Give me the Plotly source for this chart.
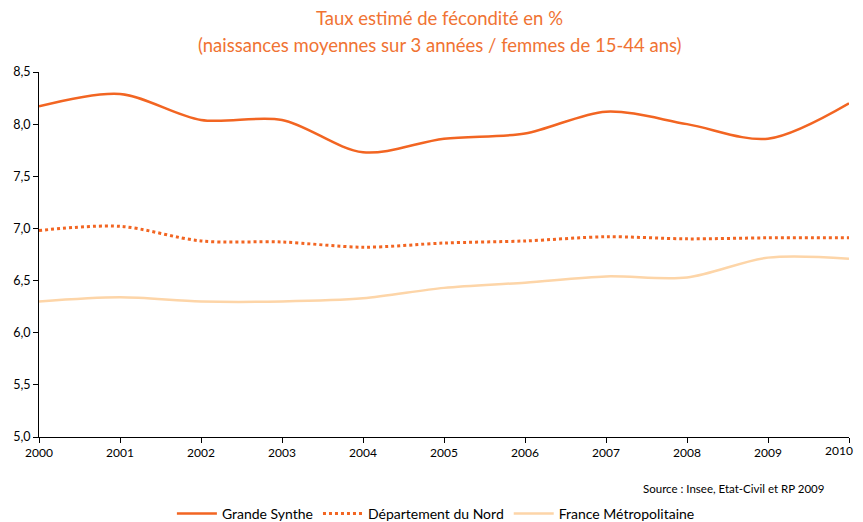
import plotly.graph_objects as go

years = [2000, 2001, 2002, 2003, 2004, 2005, 2006, 2007, 2008, 2009, 2010]
year_labels = ["2000", "2001", "2002", "2003", "2004", "2005",
               "2006", "2007", "2008", "2009", "2010"]
grande_synthe = [8.17, 8.29, 8.04, 8.04, 7.73, 7.86, 7.91, 8.12, 8.00, 7.86, 8.20]
dep_nord = [6.98, 7.02, 6.88, 6.87, 6.82, 6.86, 6.88, 6.92, 6.90, 6.91, 6.91]
france_metro = [6.30, 6.34, 6.30, 6.30, 6.33, 6.43, 6.48, 6.54, 6.53, 6.72, 6.71]

title_lines = ["Taux estimé de fécondité en %",
               "(naissances moyennes sur 3 années / femmes de 15-44 ans)"]

orange = "#F26522"
peach = "#FDD5A8"
font_family = "Lato, 'Open Sans', sans-serif"

fig = go.Figure()

fig.add_trace(go.Scatter(
    x=years, y=grande_synthe, name="Grande Synthe", mode="lines",
    line=dict(color=orange, width=2.5, shape="spline", smoothing=0.9)
))
fig.add_trace(go.Scatter(
    x=years, y=dep_nord, name="Département du Nord", mode="lines",
    line=dict(color=orange, width=3, dash="dot", shape="spline", smoothing=0.9)
))
fig.add_trace(go.Scatter(
    x=years, y=france_metro, name="France Métropolitaine", mode="lines",
    line=dict(color=peach, width=2.5, shape="spline", smoothing=0.9)
))

# title as two centred lines
for text, ypos in zip(title_lines, [1.148, 1.074]):
    fig.add_annotation(
        text=text, xref="paper", yref="paper", x=0.495, y=ypos,
        xanchor="center", yanchor="middle", showarrow=False,
        font=dict(size=18.5, color="#F07333", family=font_family)
    )

# last year label drawn separately so it is not cut at the right edge
fig.add_annotation(
    text=year_labels[-1], xref="x", yref="paper", x=years[-1], y=0,
    xanchor="right", yanchor="top", xshift=6, yshift=-4, showarrow=False,
    font=dict(size=12, color="#000000", family=font_family)
)

fig.add_annotation(
    text="Source : Insee, Etat-Civil et RP 2009",
    xref="paper", yref="paper", x=0.972, y=-0.14,
    xanchor="right", yanchor="middle", showarrow=False,
    font=dict(size=11.5, color="#000000", family=font_family)
)

# page body adds an 8px offset, so the figure is a bit smaller
fig.update_layout(
    width=855, height=514,
    margin=dict(l=31, r=14, t=64, b=85),
    paper_bgcolor="white", plot_bgcolor="white",
    separators=", ",
    font=dict(family=font_family, color="#000000", size=12.5),
    xaxis=dict(
        range=[2000, 2010], tickmode="array", tickvals=years,
        ticktext=year_labels[:-1] + [""],
        showgrid=False, zeroline=False, automargin=False,
        showline=True, linecolor="black", linewidth=1,
        ticks="outside", ticklen=5, tickcolor="black",
        tickfont=dict(size=12)
    ),
    yaxis=dict(
        range=[5.0, 8.5], dtick=0.5, tickformat=".1f",
        showgrid=False, zeroline=False, automargin=False,
        showline=True, linecolor="black", linewidth=1,
        ticks="outside", ticklen=5, tickcolor="black",
        tickfont=dict(size=12.5)
    ),
    legend=dict(
        orientation="h", xref="paper", x=0.49, xanchor="center",
        yref="container", y=0.016, yanchor="middle",
        font=dict(size=14), itemwidth=40, tracegroupgap=0
    ),
    showlegend=True
)

fig.write_html("out.html")
